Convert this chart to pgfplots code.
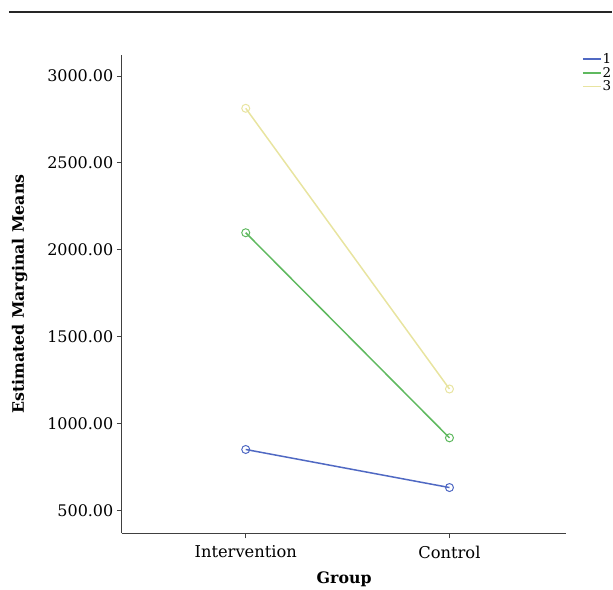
\documentclass[border=0pt]{standalone}
\usepackage{pgfplots}
\pgfplotsset{compat=1.18}
\usepackage{fontspec}
\setmainfont{DejaVu Serif}
\definecolor{c1}{RGB}{80,105,195}
\definecolor{c2}{RGB}{95,185,95}
\definecolor{c3}{RGB}{232,228,160}
\begin{document}
\begin{tikzpicture}[x=1pt,y=1pt]
    \path (0,0) rectangle (613,589);
    \draw[line width=1.3pt,black!85] (9,577) -- (613,577);
    \begin{axis}[
        at={(122pt,55pt)}, anchor=south west,
        scale only axis,
        width=445pt, height=479pt,
        xmin=-0.608, xmax=1.574,
        ymin=368, ymax=3121,
        axis x line*=bottom, axis y line*=left,
        axis line style={black!75, line width=0.9pt},
        xtick={0,1}, xticklabels={Intervention,Control},
        ytick={500,1000,1500,2000,2500,3000},
        tick align=outside, major tick length=5pt,
        tick style={black!75, line width=0.9pt},
        /pgf/number format/assume math mode=true,
        /pgf/number format/fixed,
        /pgf/number format/fixed zerofill,
        /pgf/number format/precision=2,
        /pgf/number format/1000 sep={},
        xticklabel style={font=\fontsize{16.3}{18}\selectfont, yshift=-4pt},
        yticklabel style={font=\fontsize{16}{18}\selectfont, xshift=0pt},
        xlabel={\textbf{Group}},
        ylabel={\textbf{Estimated Marginal Means}},
        label style={font=\fontsize{15.8}{18}\selectfont},
        xlabel style={yshift=-6pt},
        ylabel style={yshift=13pt},
        legend style={draw=none, fill=none, at={(1.1034,1.006)}, anchor=north east,
            inner xsep=0pt, inner ysep=0pt,
            font=\fontsize{13.5}{13.5}\selectfont, row sep=0.3pt,
            nodes={inner xsep=1pt, inner ysep=1pt},
            /tikz/every even column/.style={column sep=1pt}},
        legend cell align=left,
        legend image code/.code={\draw[#1, mark=none, line width=1.4pt] (0pt,0pt) -- (18pt,0pt);},
        every axis plot/.append style={line width=1.5pt, mark=o, mark size=4pt,
            mark options={line width=1pt}},
    ]
    \addplot[c1] coordinates {(0,851) (1,632)};
    \addlegendentry{1}
    \addplot[c2] coordinates {(0,2098) (1,918)};
    \addlegendentry{2}
    \addplot[c3] coordinates {(0,2814) (1,1199)};
    \addlegendentry{3}
    \end{axis}
\end{tikzpicture}
\end{document}
